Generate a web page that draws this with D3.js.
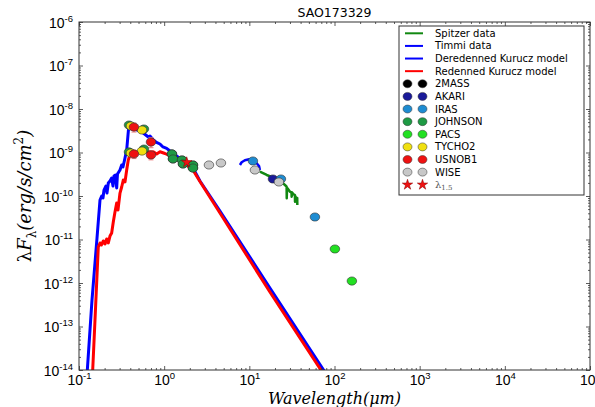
<!DOCTYPE html>
<html>
<head>
<meta charset="utf-8">
<script src="https://cdn.jsdelivr.net/npm/d3@7"></script>
<style>
  body { margin: 0; background: #fff; }
  svg { display: block; }
</style>
</head>
<body>
<div id="chart"></div>
<script>
// ---- data (wavelength in micron, lambda*F_lambda in erg/s/cm2) ----
const title = "SAO173329";
const xDecades = [0.1, 1, 10, 100, 1000, 10000, 100000];
const yDecades = [1e-14, 1e-13, 1e-12, 1e-11, 1e-10, 1e-9, 1e-8, 1e-7, 1e-6];

// dereddened Kurucz model (blue)
const deredWl = [0.1208, 0.1421, 0.1627, 0.1764, 0.1847, 0.1913, 0.1965, 0.2074, 0.2131, 0.2208,
  0.2311, 0.2419, 0.2506, 0.2575, 0.2682, 0.2770, 0.2831, 0.3029, 0.3171, 0.3284,
  0.3467, 0.3630, 0.3760, 0.3863, 0.4155, 0.4419, 0.4794, 0.5200, 0.5685, 0.6508,
  0.6815, 0.7450, 0.8013, 0.8927, 0.9681, 1.070, 1.170, 1.279, 1.532, 1.837,
  2.195, 2.632, 4.52, 17.45, 115.7];
const deredFlux = [3.47e-15, 4.06e-13, 1.08e-11, 8.09e-11, 1.0e-10, 9.0e-11, 1.37e-10, 1.70e-10, 1.17e-10, 1.99e-10,
  2.21e-10, 2.59e-10, 1.70e-10, 2.88e-10, 3.04e-10, 1.53e-10, 3.21e-10, 3.96e-10, 5.16e-10, 4.65e-10,
  7.48e-10, 1.14e-9, 2.52e-9, 4.52e-9, 4.52e-9, 3.66e-9, 3.29e-9, 3.12e-9, 2.81e-9, 2.27e-9,
  2.39e-9, 1.94e-9, 1.74e-9, 1.57e-9, 1.34e-9, 1.24e-9, 1.08e-9, 9.48e-10, 7.28e-10, 5.58e-10,
  4.29e-10, 2.21e-10, 4.52e-11, 7.67e-13, 2.66e-15];

// reddened Kurucz model (red)
const reddWl = [0.1413, 0.1541, 0.1684, 0.1764, 0.1837, 0.1929, 0.2020, 0.2113, 0.2208, 0.2311,
  0.2419, 0.2527, 0.2645, 0.2770, 0.2869, 0.3029, 0.3171, 0.3311, 0.3467, 0.3630,
  0.3790, 0.3968, 0.4338, 0.5200, 0.6232, 0.7450, 0.8166, 0.8927, 1.022, 1.225,
  1.532, 1.837, 2.195, 2.632, 4.52, 17.45, 115.7];
const reddFlux = [3.47e-15, 1.41e-13, 6.73e-12, 8.32e-12, 7.48e-12, 9.25e-12, 7.89e-12, 1.03e-11, 8.32e-12, 1.20e-11,
  1.41e-11, 2.52e-11, 4.28e-11, 6.90e-11, 4.76e-11, 1.17e-10, 1.61e-10, 2.33e-10, 2.10e-10, 3.96e-10,
  6.73e-10, 8.77e-10, 9.89e-10, 1.04e-9, 1.04e-9, 1.04e-9, 9.25e-10, 1.04e-9, 9.48e-10, 8.00e-10,
  6.73e-10, 5.16e-10, 3.85e-10, 2.15e-10, 4.06e-11, 6.21e-13, 2.15e-15];

// Timmi spectrum
const timmiWl = [7.76, 8.12, 8.87, 9.97, 11.1, 12.2, 13.0, 13.3];
const timmiFlux = [5.16e-10, 5.96e-10, 6.62e-10, 6.98e-10, 6.38e-10, 5.65e-10, 4.9e-10, 3.96e-10];

// Spitzer spectrum
const spitzerWl = [13.3, 16.0, 19.1, 22.9, 26.2, 27.4, 27.5, 27.7, 28.6, 30.0,
  31.3, 31.4, 31.6, 33.0, 34.3, 34.4, 34.6, 35.5, 36.5, 36.6];
const spitzerFlux = [3.62e-10, 3.04e-10, 2.64e-10, 2.25e-10, 1.79e-10, 1.64e-10, 8.9e-11, 1.55e-10, 1.43e-10, 1.26e-10,
  1.2e-10, 9.6e-11, 1.22e-10, 1.1e-10, 1.05e-10, 7.4e-11, 1.0e-10, 9.0e-11, 9.0e-11, 6.2e-11];

// photometry
const twomassWl = [1.234, 1.269, 1.618, 1.663, 2.178, 2.178];
const twomassFlux = [9.25e-10, 7.10e-10, 6.73e-10, 5.45e-10, 5.16e-10, 4.40e-10];
const akariWl = [18.92];
const akariFlux = [2.46e-10];
const irasWl = [11.02, 23.49, 58.9];
const irasFlux = [6.38e-10, 2.46e-10, 3.29e-11];
const johnsonWl = [0.3863, 0.579, 0.3863, 0.579, 1.234, 1.269, 1.618, 1.663, 2.178, 2.178];
const johnsonFlux = [4.28e-9, 3.47e-9, 1.03e-9, 1.20e-9, 9.25e-10, 7.10e-10, 6.73e-10, 5.45e-10, 5.16e-10, 4.40e-10];
const pacsWl = [101.1, 160.0];
const pacsFlux = [6.05e-12, 1.11e-12];
const tychoWl = [0.4076, 0.5488, 0.4076, 0.5488];
const tychoFlux = [4.07e-9, 3.29e-9, 9.75e-10, 1.08e-9];
const usnoWl = [0.442, 0.700, 0.442, 0.700];
const usnoFlux = [3.85e-9, 1.74e-9, 9.25e-10, 8.77e-10];
const usnoErr = [0.9e-9, 0.45e-9, 0.2e-9, 0.2e-9];
const wiseWl = [3.357, 4.64, 11.63, 22.26];
const wiseFlux = [5.16e-10, 5.74e-10, 3.96e-10, 2.10e-10];
const lambda15Wl = [1.84];
const lambda15Flux = [5.96e-10];

// ---- layout ----
const W = 595, H = 407;
const plot = { left: 79, top: 22, right: 590, bottom: 370 };

const x = d3.scaleLog().domain([0.1, 1e5]).range([plot.left, plot.right]);
const y = d3.scaleLog().domain([1e-14, 1e-6]).range([plot.bottom, plot.top]);

const svg = d3.select("#chart").append("svg")
  .attr("width", W).attr("height", H)
  .style("font-family", "DejaVu Sans, sans-serif");

svg.append("defs").append("clipPath").attr("id", "clip")
  .append("rect")
  .attr("x", plot.left).attr("y", plot.top)
  .attr("width", plot.right - plot.left).attr("height", plot.bottom - plot.top);

const zip = (a, b) => a.map((v, i) => [v, b[i]]);
const line = d3.line().x(d => x(d[0])).y(d => y(d[1]));

const lines = svg.append("g").attr("clip-path", "url(#clip)").attr("fill", "none")
  .attr("stroke-linejoin", "round");

lines.append("path").attr("d", line(zip(deredWl, deredFlux)))
  .attr("stroke", "#0000ff").attr("stroke-width", 3);
lines.append("path").attr("d", line(zip(reddWl, reddFlux)))
  .attr("stroke", "#ff0000").attr("stroke-width", 3);
lines.append("path").attr("d", line(zip(timmiWl, timmiFlux)))
  .attr("stroke", "#0000ff").attr("stroke-width", 2.5);
lines.append("path").attr("d", line(zip(spitzerWl, spitzerFlux)))
  .attr("stroke", "#118811").attr("stroke-width", 2.5);

// error bars (USNOB1)
const errs = svg.append("g").attr("stroke", "#f08080").attr("stroke-width", 1);
usnoWl.forEach((w, i) => {
  const cx = x(w), y0 = y(usnoFlux[i] - usnoErr[i]), y1 = y(usnoFlux[i] + usnoErr[i]);
  errs.append("line").attr("x1", cx).attr("x2", cx).attr("y1", y0).attr("y2", y1);
  errs.append("line").attr("x1", cx - 2.5).attr("x2", cx + 2.5).attr("y1", y0).attr("y2", y0);
  errs.append("line").attr("x1", cx - 2.5).attr("x2", cx + 2.5).attr("y1", y1).attr("y2", y1);
});

const photometry = [
  { name: "2MASS", color: "#000000", wl: twomassWl, flux: twomassFlux },
  { name: "AKARI", color: "#1a1a99", wl: akariWl, flux: akariFlux },
  { name: "IRAS", color: "#1e8cd2", wl: irasWl, flux: irasFlux },
  { name: "JOHNSON", color: "#1e9a44", wl: johnsonWl, flux: johnsonFlux },
  { name: "PACS", color: "#22e022", wl: pacsWl, flux: pacsFlux },
  { name: "TYCHO2", color: "#f0e010", wl: tychoWl, flux: tychoFlux },
  { name: "USNOB1", color: "#ee1111", wl: usnoWl, flux: usnoFlux },
  { name: "WISE", color: "#c8c8c8", wl: wiseWl, flux: wiseFlux }
];

const markers = svg.append("g");
photometry.forEach(s => {
  markers.append("g").selectAll("ellipse")
    .data(zip(s.wl, s.flux))
    .enter().append("ellipse")
    .attr("cx", d => x(d[0])).attr("cy", d => y(d[1]))
    .attr("rx", 4.8).attr("ry", 4.1)
    .attr("fill", s.color)
    .attr("stroke", "#333").attr("stroke-width", 0.6);
});

const star = d3.symbol().type(d3.symbolStar).size(34);
markers.selectAll("path.star")
  .data(zip(lambda15Wl, lambda15Flux))
  .enter().append("path")
  .attr("class", "star")
  .attr("d", star)
  .attr("transform", d => `translate(${x(d[0])},${y(d[1])})`)
  .attr("fill", "#ee1111").attr("stroke", "#880000").attr("stroke-width", 0.5);

// ---- axes ----
const minorX = x.ticks().filter(v => !xDecades.some(d => Math.abs(d - v) / d < 1e-6));
const minorY = y.ticks().filter(v => !yDecades.some(d => Math.abs(d - v) / d < 1e-6));

function supLabel(sel, size, supSize, supDy) {
  sel.each(function(d) {
    const t = d3.select(this).text(null);
    t.append("tspan").attr("font-size", size).text("10");
    t.append("tspan").attr("font-size", supSize).attr("dy", supDy)
      .text(Math.round(Math.log10(d)));
  });
}

const axisColor = "#333";

// bottom
const gx = svg.append("g").attr("transform", `translate(0,${plot.bottom})`)
  .call(d3.axisBottom(x).tickValues(xDecades).tickSizeInner(-4).tickSizeOuter(0).tickPadding(8));
gx.selectAll(".tick text").attr("fill", "#000").call(supLabel, 14, 9.5, -6);
svg.append("g").attr("transform", `translate(0,${plot.bottom})`)
  .call(d3.axisBottom(x).tickValues(minorX).tickSizeInner(-2).tickSizeOuter(0).tickFormat(""));
// top
svg.append("g").attr("transform", `translate(0,${plot.top})`)
  .call(d3.axisTop(x).tickValues(xDecades).tickSizeInner(-4).tickSizeOuter(0).tickFormat(""));
svg.append("g").attr("transform", `translate(0,${plot.top})`)
  .call(d3.axisTop(x).tickValues(minorX).tickSizeInner(-2).tickSizeOuter(0).tickFormat(""));
// left
const gy = svg.append("g").attr("transform", `translate(${plot.left},0)`)
  .call(d3.axisLeft(y).tickValues(yDecades).tickSizeInner(-4).tickSizeOuter(0).tickPadding(6));
gy.selectAll(".tick text").attr("fill", "#000").attr("dy", "0.5em").call(supLabel, 14, 9.5, -6);
svg.append("g").attr("transform", `translate(${plot.left},0)`)
  .call(d3.axisLeft(y).tickValues(minorY).tickSizeInner(-2).tickSizeOuter(0).tickFormat(""));
// right
svg.append("g").attr("transform", `translate(${plot.right},0)`)
  .call(d3.axisRight(y).tickValues(yDecades).tickSizeInner(-4).tickSizeOuter(0).tickFormat(""));
svg.append("g").attr("transform", `translate(${plot.right},0)`)
  .call(d3.axisRight(y).tickValues(minorY).tickSizeInner(-2).tickSizeOuter(0).tickFormat(""));

svg.selectAll(".domain").remove();
svg.selectAll(".tick line").attr("stroke", axisColor).attr("stroke-width", 0.8);

svg.append("rect")
  .attr("x", plot.left).attr("y", plot.top)
  .attr("width", plot.right - plot.left).attr("height", plot.bottom - plot.top)
  .attr("fill", "none").attr("stroke", axisColor).attr("stroke-width", 1);

// ---- titles ----
svg.append("text")
  .attr("x", (plot.left + plot.right) / 2).attr("y", 17)
  .attr("text-anchor", "middle").attr("font-size", 12.5)
  .text(title);

const xl = svg.append("text")
  .attr("x", (plot.left + plot.right) / 2).attr("y", 404)
  .attr("text-anchor", "middle").attr("font-size", 16)
  .attr("font-family", "DejaVu Serif, serif").attr("font-style", "italic");
xl.append("tspan").text("Wavelength(");
xl.append("tspan").text("\u03bcm");
xl.append("tspan").text(")");

const yl = svg.append("text")
  .attr("transform", `translate(31,${(plot.top + plot.bottom) / 2}) rotate(-90)`)
  .attr("text-anchor", "middle").attr("font-size", 18)
  .attr("font-family", "DejaVu Serif, serif");
yl.append("tspan").text("\u03bb");
yl.append("tspan").attr("font-style", "italic").text("F");
yl.append("tspan").attr("font-size", 12).attr("dy", 5).text("\u03bb");
yl.append("tspan").attr("font-style", "italic").attr("dy", -5).text("(erg/s/cm");
yl.append("tspan").attr("font-size", 12).attr("dy", -8).text("2");
yl.append("tspan").attr("font-style", "italic").attr("dy", 8).text(")");

// ---- legend ----
const leg = svg.append("g").attr("transform", "translate(399,26)").attr("font-size", 10);
leg.append("rect").attr("width", 185).attr("height", 169)
  .attr("fill", "#fff").attr("stroke", "#333").attr("stroke-width", 1);

const legendLines = [
  { name: "Spitzer data", color: "#118811" },
  { name: "Timmi data", color: "#0000ff" },
  { name: "Deredenned Kurucz model", color: "#0000ff" },
  { name: "Redenned Kurucz model", color: "#ff0000" }
];
const rowH = 12.62, row0 = 7.3;
legendLines.forEach((l, i) => {
  const yy = row0 + i * rowH;
  leg.append("line").attr("x1", 6).attr("x2", 24).attr("y1", yy).attr("y2", yy)
    .attr("stroke", l.color).attr("stroke-width", 2);
  leg.append("text").attr("x", 36).attr("y", yy).attr("dy", "0.35em").text(l.name);
});
photometry.forEach((s, j) => {
  const yy = row0 + (j + 4) * rowH;
  [8.5, 23.5].forEach(cx => {
    leg.append("ellipse").attr("cx", cx).attr("cy", yy).attr("rx", 4.5).attr("ry", 4)
      .attr("fill", s.color).attr("stroke", "#333").attr("stroke-width", 0.5);
  });
  leg.append("text").attr("x", 36).attr("y", yy).attr("dy", "0.35em").text(s.name);
});
{
  const yy = row0 + 12 * rowH;
  [8.5, 23.5].forEach(cx => {
    leg.append("path").attr("d", star).attr("transform", `translate(${cx},${yy})`)
      .attr("fill", "#ee1111").attr("stroke", "#880000").attr("stroke-width", 0.5);
  });
  const t = leg.append("text").attr("x", 36).attr("y", yy).attr("dy", "0.3em")
    .attr("font-family", "DejaVu Serif, serif").attr("fill", "#555");
  t.append("tspan").attr("font-size", 10).text("\u03bb");
  t.append("tspan").attr("font-size", 7).attr("dy", 2).text("1.5");
}
</script>
</body>
</html>
